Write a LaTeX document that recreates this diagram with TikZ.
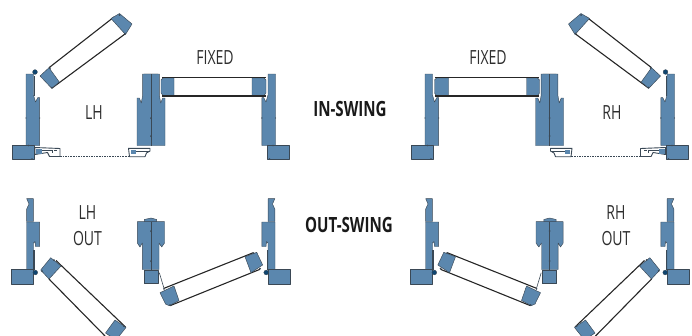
\documentclass[tikz,border=0pt]{standalone}
\usepackage{fontspec}
\setmainfont{Open Sans}[FakeStretch=0.72]
\definecolor{metal}{HTML}{5B87AE}
\definecolor{edge}{HTML}{3A4855}
\definecolor{hinge}{HTML}{0F4570}
\definecolor{txt}{HTML}{2E2E2E}
\tikzset{
  metalpart/.style={fill=metal,draw=edge,line width=0.45pt,line join=round},
  glassline/.style={draw=black!85,line width=1.1pt},
  seam/.style={draw=edge,line width=0.8pt},
  nub/.style={fill=edge},
  hingedot/.style={fill=hinge,draw=edge,line width=0.3pt},
  sillpart/.style={fill=white,draw=edge,line width=0.9pt,line join=round},
  plainlabel/.style={text=txt,font=\fontsize{19.5}{19.5}\selectfont,inner sep=0pt},
  swinglabel/.style={text=black!90,font=\fontsize{21}{21}\selectfont\bfseries,inner sep=0pt}
}
\newcommand{\jambin}{%
  \path[metalpart] (26,74)--(33.5,74)--(33.5,95)--(35.5,102)--(37.7,97.7)--(39.7,97.7)--(39.7,145.5)--(26,145.5)--cycle;
  \path[metalpart] (12.5,145.5)--(34,145.5)--(34,159.3)--(12.5,159.3)--cycle;
  \path[nub] (26,118) circle (0.7) (39.7,118) circle (0.7) (28.5,145.5) circle (0.8) (32,159) circle (0.8);
}
\newcommand{\jambout}{%
  \path[metalpart] (26.7,198.7)--(33.3,198.7)--(33.3,221.5)--(26.7,221.5)--(26.7,209)--(29,204)--cycle;
  \path[metalpart] (26.5,222)--(39.7,222)--(39.7,246.5)--(35.5,246.5)--(35,241.5)--(33.5,243)--(33.5,269.5)--(26.5,269.5)--cycle;
  \path[metalpart] (11.5,269.5)--(33.5,269.5)--(33.5,284.3)--(11.5,284.3)--cycle;
  \draw[edge,line width=1.1pt] (34,250)--(34,270);
  \path[hingedot] (35.3,272.5) circle (2.4);
}
\newcommand{\halfsheet}{%
  % in-swing: open sash
  \path[fill=white] (49,67.7)--(112,18.5)--(125,34)--(51.7,88.3)--cycle;
  \path[glassline] (49,67.7)--(114,17);
  \path[glassline] (51.7,88.3)--(125,34);
  \path[metalpart] (40,76)--(49,67.7)--(59.3,82)--(51.7,88.3)--cycle;
  \path[metalpart] (111,18.5)--(119.5,13.5)--(132,24)--(125.5,34.5)--cycle;
  \path[nub] (50,68) circle (1) (52,87.5) circle (1) (119.5,15) circle (1) (125,33.5) circle (1);
  \jambin
  \draw[edge,line width=0.9pt] (34,76)--(34,96);
  \path[hingedot] (35,72) circle (2.4);
  % sill
  \path[sillpart] (35,147.5)--(60,148.5)--(60,156.5)--(49.5,156.5)--(47.5,152.5)--(35,154.5)--cycle;
  \path[fill=metal] (36,148.5) rectangle (42,153.5);
  \draw[edge,line width=0.6pt] (42,150)--(52,150)--(52,153) (54,150.5)--(57,150.5);
  \path[sillpart] (128.5,148.3)--(150,148.3)--(150,151)--(146.5,153)--(145,156.7)--(129.5,156.7)--cycle;
  \path[fill=metal] (131,150) rectangle (136,154);
  \draw[edge,line width=0.6pt] (136,151)--(150,151);
  \draw[edge,line width=0.8pt,dash pattern=on 1.6pt off 1pt] (60,156.7)--(129.5,156.7);
  % in-swing: mullion
  \path[fill=metal!45!white,draw=edge,line width=0.4pt] (144.5,74) arc[start angle=180,end angle=0,x radius=6.5,y radius=4.3]--cycle;
  \path[metalpart] (142.7,74)--(159.3,74)--(159.3,95)--(160.7,103)--(162.7,98)--(165,98)--(165,145.5)--(137,145.5)--(137,98)--(139.3,98)--(141.3,103)--(142.7,95)--cycle;
  \draw[seam] (151,74)--(151,146);
  \path[fill=edge] (151,118) circle (1) (151,136) circle (1);
  % in-swing: fixed pane
  \path[fill=white] (161,77.5) rectangle (266,96);
  \path[metalpart] (161,80)--(163,78)--(174,78)--(174,95.5)--(163,95.5)--(161,93)--cycle;
  \path[metalpart] (252,78)--(264,78)--(266,80)--(266,93)--(264,95.5)--(252,95.5)--cycle;
  \path[glassline] (162,77.3)--(266,77.3);
  \path[glassline] (162,96)--(266,96);
  \begin{scope}[shift={(301.5,0)},xscale=-1]
    \jambin
  \end{scope}
  % out-swing
  \jambout
  \path[fill=white] (58,262.5)--(125,326.7)--(105,340)--(49,279)--cycle;
  \path[glassline] (56,260.5)--(125.5,327);
  \path[glassline] (49,279)--(105,336);
  \path[metalpart] (40.7,270)--(50.7,257.7)--(61,266)--(49,279)--cycle;
  \path[metalpart] (115,320)--(126,327.5)--(116,340)--(105.5,333)--cycle;
  \path[nub] (54,260) circle (1) (42,271) circle (1) (124,326) circle (1);
  % out-swing: mullion
  \path[metalpart] (144.3,222)--(144.3,219.5)--(151,218)--(156.7,219.5)--(156.7,222)--cycle;
  \path[metalpart] (137.3,221.7)--(164.5,221.7)--(164.5,243)--(161.7,247)--(159,243)--(159,269.5)--(142.3,269.5)--(142.3,243)--(140,247)--(137.3,243)--cycle;
  \path[metalpart] (144,270)--(158.3,270)--(158.3,283.5)--(144,283.5)--cycle;
  \draw[seam] (151,222)--(151,269.5);
  \path[fill=edge] (151,231) circle (1) (151,261) circle (1);
  \draw[edge,line width=0.6pt] (159.3,272.7)--(164,288.3);
  % out-swing: sash
  \path[fill=white] (164,288.3)--(253.3,252.7)--(260,269.3)--(170,305.7)--cycle;
  \path[glassline] (164,288.3)--(253.3,252.7);
  \path[glassline] (170,305.7)--(260,269.3);
  \path[metalpart] (160,292.7)--(174,286)--(179,300.5)--(169.3,305.7)--(165.5,304)--cycle;
  \path[metalpart] (245,256.7)--(256.7,252.3)--(262.7,265)--(251,272.7)--cycle;
  \path[nub] (164,288.8) circle (1) (170,305) circle (1) (253.5,253) circle (1) (260,268.5) circle (1);
  \begin{scope}[shift={(301.5,0)},xscale=-1]
    \jambout
  \end{scope}
}
\begin{document}
\begin{tikzpicture}[x=1pt,y=-1pt]
  \useasboundingbox (0,0) rectangle (692,335);
  \clip (0,0) rectangle (692,335);
  \halfsheet
  \begin{scope}[shift={(700.5,0)},xscale=-1]
    \halfsheet
  \end{scope}
  \node[plainlabel] (lh) at (94,113) {LH};
  \node[plainlabel] (rh) at (612,113) {RH};
  \node[plainlabel] (fixedl) at (215,57.5) {FIXED};
  \node[plainlabel] (fixedr) at (488,57.5) {FIXED};
  \node[plainlabel] (lho) at (87.5,213) {LH};
  \node[plainlabel] (lhoo) at (87.5,239) {OUT};
  \node[plainlabel] (rho) at (616,213) {RH};
  \node[plainlabel] (rhoo) at (616,238.5) {OUT};
  \node[swinglabel] (in) at (350,108.5) {IN-SWING};
  \node[swinglabel] (out) at (349,225) {OUT-SWING};
\end{tikzpicture}
\end{document}
